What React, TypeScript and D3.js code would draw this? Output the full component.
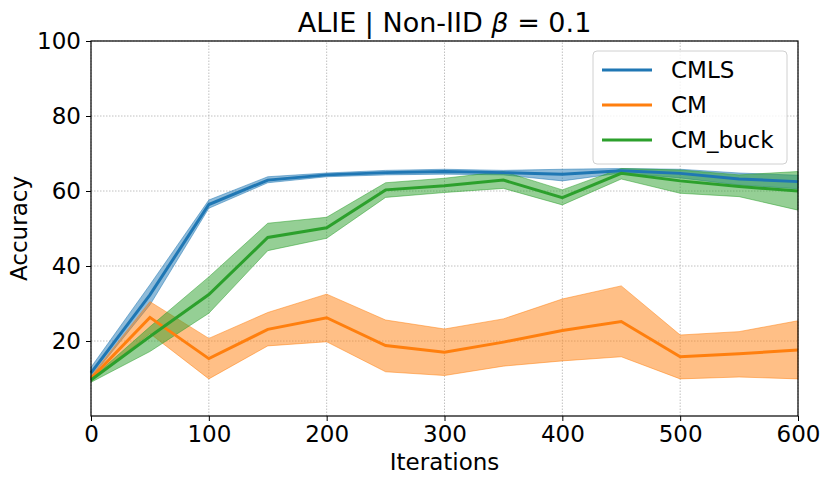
import * as d3 from "d3";
import { useEffect, useRef } from "react";

const iterations = [0, 50, 100, 150, 200, 250, 300, 350, 400, 450, 500, 550, 600];

const cmlsMean = [11.5, 32.3, 56.4, 62.9, 64.3, 64.9, 65.2, 64.9, 64.5, 65.4, 64.7, 63.2, 62.5];
const cmlsLow = [10.2, 29.6, 55.4, 62.2, 63.8, 64.3, 64.5, 64.3, 62.7, 64.8, 63.5, 61.6, 60.6];
const cmlsHigh = [13.0, 35.0, 57.6, 63.8, 64.8, 65.5, 65.8, 65.5, 65.8, 66.0, 65.8, 64.8, 64.2];

const cmMean = [10.0, 26.3, 15.3, 23.1, 26.2, 18.8, 17.0, 19.7, 22.8, 25.2, 15.8, 16.6, 17.6];
const cmLow = [9.5, 22.0, 9.9, 18.7, 19.8, 11.8, 10.8, 13.3, 14.7, 15.8, 9.9, 10.4, 9.9];
const cmHigh = [10.6, 30.5, 20.7, 27.6, 32.5, 25.6, 23.2, 25.9, 31.2, 34.7, 21.6, 22.5, 25.4];

const buckMean = [9.6, 21.2, 32.4, 47.6, 50.2, 60.3, 61.4, 62.9, 58.2, 64.7, 62.7, 61.2, 60.0];
const buckLow = [9.0, 17.2, 27.4, 44.1, 47.4, 58.3, 59.6, 60.7, 56.3, 63.2, 59.4, 58.5, 54.9];
const buckHigh = [9.9, 23.8, 37.1, 51.4, 53.0, 62.2, 63.4, 65.2, 60.3, 66.0, 65.6, 64.3, 65.2];

const xTicks = [0, 100, 200, 300, 400, 500, 600];
const yTicks = [20, 40, 60, 80, 100];

const series = [
  { label: "CMLS", color: "#1f77b4", mean: cmlsMean, low: cmlsLow, high: cmlsHigh },
  { label: "CM", color: "#ff7f0e", mean: cmMean, low: cmLow, high: cmHigh },
  { label: "CM_buck", color: "#2ca02c", mean: buckMean, low: buckLow, high: buckHigh },
];

export default function App() {
  const ref = useRef<SVGSVGElement>(null);

  useEffect(() => {
    if (!ref.current) return;
    const svg = d3.select(ref.current);
    svg.selectAll("*").remove();

    const W = 831;
    const H = 485;
    const m = { left: 91, right: 33, top: 41, bottom: 69 };
    const font = "DejaVu Sans, sans-serif";
    const fs = 23;

    const x = d3.scaleLinear().domain([0, 600]).range([m.left, W - m.right]);
    const y = d3.scaleLinear().domain([0, 100]).range([H - m.bottom, m.top]);

    // grid
    const grid = svg.append("g").attr("stroke", "#b0b0b0").attr("stroke-width", 0.8).attr("stroke-dasharray", "1.5,1.5");
    xTicks.forEach(t => grid.append("line").attr("x1", x(t)).attr("x2", x(t)).attr("y1", y(0)).attr("y2", y(100)));
    yTicks.forEach(t => grid.append("line").attr("x1", x(0)).attr("x2", x(600)).attr("y1", y(t)).attr("y2", y(t)));

    // bands and lines
    series.forEach(s => {
      const area = d3
        .area<number>()
        .x((_, i) => x(iterations[i]))
        .y0((_, i) => y(s.low[i]))
        .y1((_, i) => y(s.high[i]));
      svg
        .append("path")
        .attr("d", area(s.mean) as string)
        .attr("fill", s.color)
        .attr("fill-opacity", 0.5)
        .attr("stroke", s.color)
        .attr("stroke-opacity", 0.5)
        .attr("stroke-width", 1);
    });
    series.forEach(s => {
      const line = d3
        .line<number>()
        .x((_, i) => x(iterations[i]))
        .y(d => y(d));
      svg
        .append("path")
        .attr("d", line(s.mean) as string)
        .attr("fill", "none")
        .attr("stroke", s.color)
        .attr("stroke-width", 3);
    });

    // frame
    svg
      .append("rect")
      .attr("x", x(0))
      .attr("y", y(100))
      .attr("width", x(600) - x(0))
      .attr("height", y(0) - y(100))
      .attr("fill", "none")
      .attr("stroke", "#000")
      .attr("stroke-width", 1.2);

    // axes
    const xAxis = svg
      .append("g")
      .attr("transform", `translate(0,${y(0)})`)
      .call(d3.axisBottom(x).tickValues(xTicks).tickSize(5).tickPadding(5));
    const yAxis = svg
      .append("g")
      .attr("transform", `translate(${x(0)},0)`)
      .call(d3.axisLeft(y).tickValues(yTicks).tickSize(5).tickPadding(5));
    [xAxis, yAxis].forEach(a => {
      a.select(".domain").remove();
      a.selectAll("text").attr("font-size", fs).attr("font-family", font).attr("fill", "#000");
      a.selectAll("line").attr("stroke", "#000");
    });

    // labels
    svg
      .append("text")
      .attr("x", (x(0) + x(600)) / 2)
      .attr("y", 470)
      .attr("text-anchor", "middle")
      .attr("font-size", fs)
      .attr("font-family", font)
      .text("Iterations");
    svg
      .append("text")
      .attr("transform", `translate(27,${(y(0) + y(100)) / 2}) rotate(-90)`)
      .attr("text-anchor", "middle")
      .attr("font-size", fs)
      .attr("font-family", font)
      .text("Accuracy");

    const title = svg
      .append("text")
      .attr("x", (x(0) + x(600)) / 2)
      .attr("y", 32)
      .attr("text-anchor", "middle")
      .attr("font-size", 27)
      .attr("font-family", font);
    title.append("tspan").text("ALIE | Non-IID ");
    title.append("tspan").attr("font-style", "italic").text("β");
    title.append("tspan").text(" = 0.1");

    // legend
    const lg = svg.append("g").attr("transform", "translate(593,51)");
    lg.append("rect")
      .attr("width", 194)
      .attr("height", 113)
      .attr("rx", 4)
      .attr("fill", "#fff")
      .attr("fill-opacity", 0.8)
      .attr("stroke", "#d0d0d0");
    series.forEach((s, i) => {
      const cy = 19 + i * 35;
      lg.append("line").attr("x1", 9).attr("x2", 59).attr("y1", cy).attr("y2", cy).attr("stroke", s.color).attr("stroke-width", 3);
      lg.append("text")
        .attr("x", 78)
        .attr("y", cy + 8)
        .attr("font-size", fs)
        .attr("font-family", font)
        .text(s.label);
    });
  }, []);

  return <svg ref={ref} width={831} height={485} style={{ display: "block", margin: "-8px" }} />;
}
